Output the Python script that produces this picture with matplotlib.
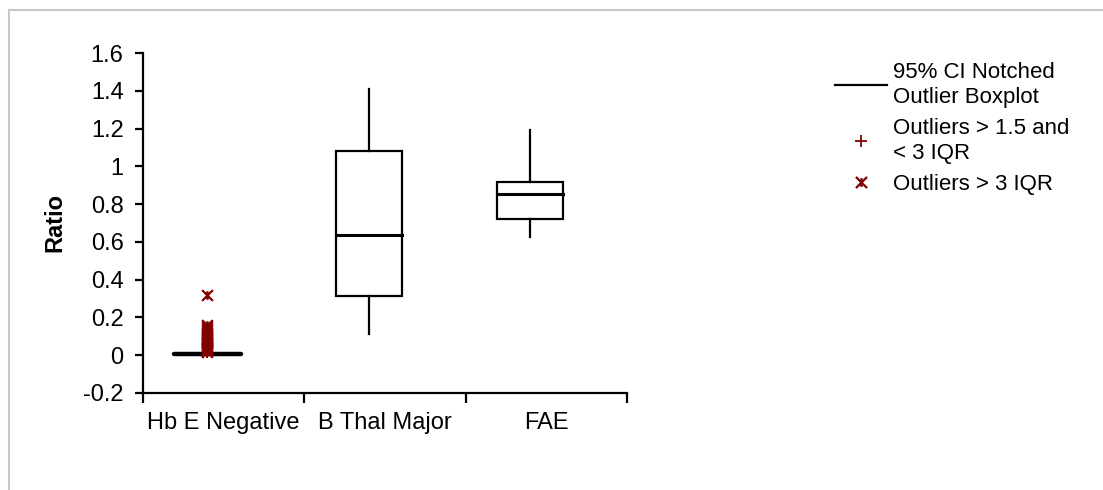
import matplotlib
matplotlib.use('Agg')
import matplotlib.pyplot as plt
from matplotlib.patches import Rectangle
from matplotlib.lines import Line2D
from matplotlib.path import Path

plt.rcParams['font.family'] = ['Liberation Sans', 'DejaVu Sans']

# Data
groups = ['Hb E Negative', 'B Thal Major', 'FAE']
whisker_low = [0.003, 0.111, 0.626]
q1 = [0.004, 0.312, 0.720]
median = [0.005, 0.635, 0.852]
q3 = [0.006, 1.081, 0.917]
whisker_high = [0.008, 1.411, 1.190]

# Hb E Negative outliers
far_outliers = [0.317, 0.160, 0.150, 0.140, 0.130, 0.120, 0.110, 0.100, 0.092,
                0.085, 0.078, 0.072, 0.066, 0.060, 0.055, 0.050, 0.045, 0.040,
                0.035, 0.030, 0.025, 0.020, 0.016]
mild_outliers = [0.014, 0.012, 0.010]

yticks = [-0.2, 0, 0.2, 0.4, 0.6, 0.8, 1.0, 1.2, 1.4, 1.6]
ytick_labels = ['-0.2', '0', '0.2', '0.4', '0.6', '0.8', '1', '1.2', '1.4', '1.6']

red = '#800000'
fs = 17

# "x" with a short vertical bar, like the Excel star marker
star = Path([(-1, -1), (1, 1), (-1, 1), (1, -1), (0, -0.8), (0, 0.8)],
            [Path.MOVETO, Path.LINETO, Path.MOVETO, Path.LINETO, Path.MOVETO, Path.LINETO])

fig = plt.figure(figsize=(11.03, 4.9), dpi=100)
ax = fig.add_axes([0.1296, 0.198, 0.4389, 0.6938])

# outer gray frame
fig.patches.append(Rectangle((9 / 1103, -0.2), 1.2, 1.2 - 10 / 490,
                             transform=fig.transFigure, fill=False,
                             edgecolor='#c8c8c8', lw=1.5))

pos = [0.4, 1.4, 2.4]
half = 0.205
for i, x in enumerate(pos):
    if i == 0:
        ax.plot([x - half, x + half], [median[i], median[i]], color='black',
                lw=3.2, solid_capstyle='round', zorder=2)
        continue
    ax.add_patch(Rectangle((x - half, q1[i]), 2 * half, q3[i] - q1[i],
                           fill=False, edgecolor='black', lw=1.6, zorder=2))
    ax.plot([x - half, x + half], [median[i], median[i]], color='black', lw=2.2, zorder=2)
    ax.plot([x, x], [q3[i], whisker_high[i]], color='black', lw=1.6, zorder=2)
    ax.plot([x, x], [whisker_low[i], q1[i]], color='black', lw=1.6, zorder=2)

ax.scatter([pos[0]] * len(far_outliers), far_outliers, marker=star, s=60,
           color=red, linewidths=1.6, zorder=3)
ax.scatter([pos[0]] * len(mild_outliers), mild_outliers, marker='+', s=50,
           color=red, linewidths=1.2, zorder=3)

ax.set_xlim(0, 3)
ax.set_ylim(-0.2, 1.6)
ax.set_yticks(yticks)
ax.set_yticklabels(ytick_labels, fontsize=fs)
ax.set_xticks([0, 1, 2, 3])
ax.set_xticklabels([])
ax.set_xticks([0.5, 1.5, 2.5], minor=True)
ax.set_xticklabels(groups, minor=True, fontsize=fs)
ax.tick_params(axis='x', which='minor', length=0, pad=14)
ax.tick_params(axis='x', which='major', length=7, width=1.6, direction='out')
ax.tick_params(axis='y', length=6, width=1.6, direction='out', pad=8)
for s in ['top', 'right']:
    ax.spines[s].set_visible(False)
for s in ['left', 'bottom']:
    ax.spines[s].set_linewidth(1.6)
ax.set_ylabel('Ratio', fontsize=fs, fontweight='bold', labelpad=12)

# legend
handles = [Line2D([0], [0], color='black', lw=1.6),
           Line2D([0], [0], color=red, marker='+', ls='none', markersize=8, mew=1.3),
           Line2D([0], [0], color=red, marker=star, ls='none', markersize=8, mew=1.6)]
labels = ['95% CI Notched\nOutlier Boxplot', 'Outliers > 1.5 and\n< 3 IQR', 'Outliers > 3 IQR']
leg = fig.legend(handles, labels, loc='upper left', bbox_to_anchor=(835 / 1103, 1 - 62 / 490),
                 frameon=False, fontsize=16, handlelength=2.35, handletextpad=0.27,
                 labelspacing=0.45, borderpad=0, borderaxespad=0)
for t in leg.get_texts():
    t.set_linespacing(1.25)

fig.savefig('out.png', dpi=100)
